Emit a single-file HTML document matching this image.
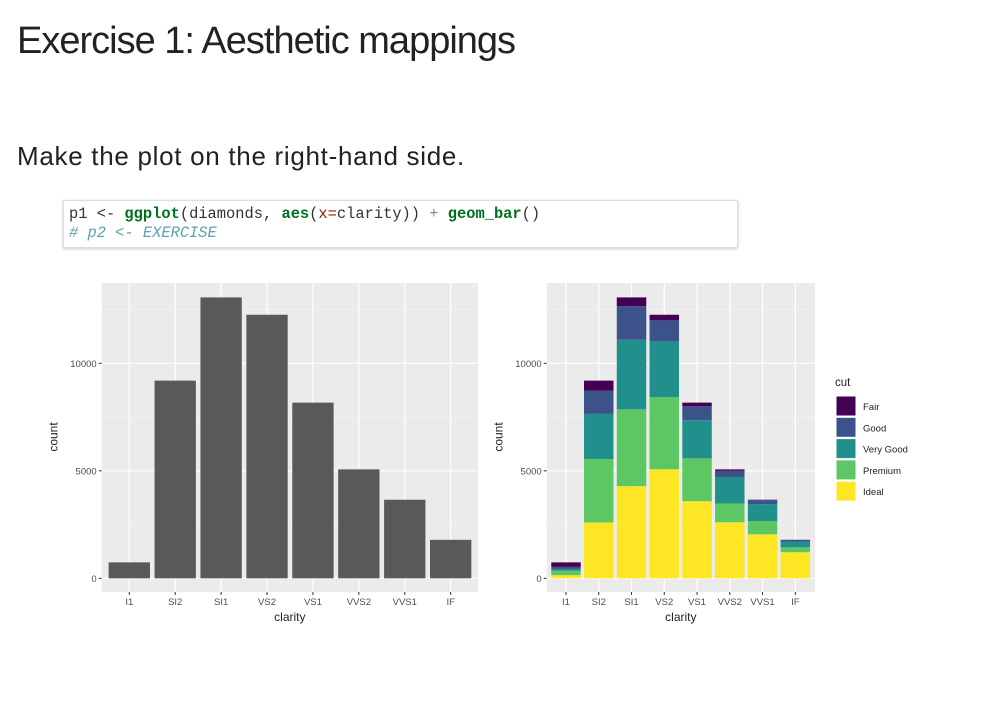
<!DOCTYPE html>
<html><head><meta charset="utf-8"><style>
body{margin:0;width:982px;height:702px;background:#fff;overflow:hidden;font-family:"Liberation Sans",sans-serif;position:relative}
#title{position:absolute;left:17px;top:18px;font-size:38px;color:#222;letter-spacing:-1px;font-weight:normal;margin:0;line-height:46px;white-space:nowrap}
#sub{position:absolute;left:17px;top:139px;font-size:26px;color:#222;margin:0;letter-spacing:0.7px;line-height:34px;white-space:nowrap}
#code{position:absolute;left:63px;top:200px;width:675px;height:48px;border:1px solid #ddd;box-shadow:0 1px 3px #ccc;font-family:"Liberation Mono",monospace;font-size:15.4px;line-height:18.5px;padding:4px 5px;box-sizing:border-box;color:#333;white-space:nowrap}
.fn{color:#007020;font-weight:bold}.ar{color:#902000}.cm{color:#60a0b0;font-style:italic}.op{color:#888}
svg{position:absolute;left:0;top:0}
</style></head><body>
<h1 id="title">Exercise 1: Aesthetic mappings</h1>
<p id="sub">Make the plot on the right-hand side.</p>
<div id="code">p1 &lt;- <span class="fn">ggplot</span>(diamonds, <span class="fn">aes</span>(<span class="ar">x=</span>clarity)) <span class="op">+</span> <span class="fn">geom_bar</span>()<br><span class="cm"># p2 &lt;- EXERCISE</span></div>
<svg id="chart" width="982" height="702"></svg>
<script>
const categories=["I1","SI2","SI1","VS2","VS1","VVS2","VVS1","IF"];
const cuts=["Fair","Good","Very Good","Premium","Ideal"];
const colors=["#440154","#3b528b","#21908c","#5dc863","#fde725"];
const fair=[210,466,408,261,170,69,17,9];
const good=[96,1081,1560,978,648,286,186,71];
const veryGood=[84,2100,3240,2591,1775,1235,789,268];
const premium=[205,2949,3575,3357,1989,870,616,230];
const ideal=[146,2598,4282,5071,3589,2606,2047,1212];
const yTicks=[0,5000,10000];
const series=[fair,good,veryGood,premium,ideal];
const svg=document.getElementById('chart');const NS='http://www.w3.org/2000/svg';
function el(t,a,p){const e=document.createElementNS(NS,t);for(const k in a)e.setAttribute(k,a[k]);(p||svg).appendChild(e);return e;}
const y0=578.3,ky=0.0215;
function Y(v){return y0-v*ky;}
function panel(x0,x1,c0,step,stacked,name){
  const g=el('g',{});
  
  
  const bg=el('rect',{x:x0,y:283,width:x1-x0,height:309,fill:'#ebebeb'},g);
  
  
  [2500,7500,12500].forEach(v=>el('line',{x1:x0,x2:x1,y1:Y(v),y2:Y(v),stroke:'#f5f5f5','stroke-width':0.6},g));
  yTicks.forEach(v=>{el('line',{x1:x0,x2:x1,y1:Y(v),y2:Y(v),stroke:'#fff','stroke-width':1.2},g);
    el('line',{x1:x0-3,x2:x0,y1:Y(v),y2:Y(v),stroke:'#333'},g);
    const t=el('text',{x:x0-5,y:Y(v)+3.5,'text-anchor':'end','font-size':9.5,fill:'#4d4d4d'},g);t.textContent=v;
    
    });
  categories.forEach((c,i)=>{const cx=c0+i*step;
    el('line',{x1:cx,x2:cx,y1:283,y2:592,stroke:'#fff','stroke-width':1.2},g);
    el('line',{x1:cx,x2:cx,y1:592,y2:595,stroke:'#333'},g);
    const t=el('text',{x:cx,y:605,'text-anchor':'middle','font-size':9.5,fill:'#4d4d4d'},g);t.textContent=c;
    
    });
  const w=step*0.9;
  categories.forEach((c,i)=>{const cx=c0+i*step;
    if(!stacked){const tot=series.reduce((s,a)=>s+a[i],0);
      const r=el('rect',{x:cx-w/2,y:Y(tot),width:w,height:Y(0)-Y(tot),fill:'#595959'},g);
      
      }
    else{let base=0;for(let s=4;s>=0;s--){const v=series[s][i];
      const r=el('rect',{x:cx-w/2,y:Y(base+v),width:w,height:Y(base)-Y(base+v),fill:colors[s]},g);
      
      
      base+=v;}}
  });
  const xt=el('text',{x:(x0+x1)/2,y:621,'text-anchor':'middle','font-size':12,fill:'#222'},g);xt.textContent='clarity';
  
  
  const yt=el('text',{x:0,y:0,'text-anchor':'middle','font-size':12,fill:'#222',transform:`translate(${x0-44},437) rotate(-90)`},g);yt.textContent='count';
  
  
}
panel(101.7,478,129.3,45.91,false,'left-bar-chart');
panel(546.7,815,566,32.76,true,'right-stacked-bar-chart');
const lt=el('text',{x:835,y:386,'font-size':11.5,fill:'#222'});lt.textContent='cut';


cuts.forEach((c,i)=>{const y=396+i*21.3;
  const r=el('rect',{x:836,y:y,width:20,height:20,fill:colors[i],stroke:'#fff','stroke-width':1});
  
  
  const t=el('text',{x:863,y:y+14,'font-size':9.5,fill:'#222'});t.textContent=c;
  
  });
</script>
</body></html>
